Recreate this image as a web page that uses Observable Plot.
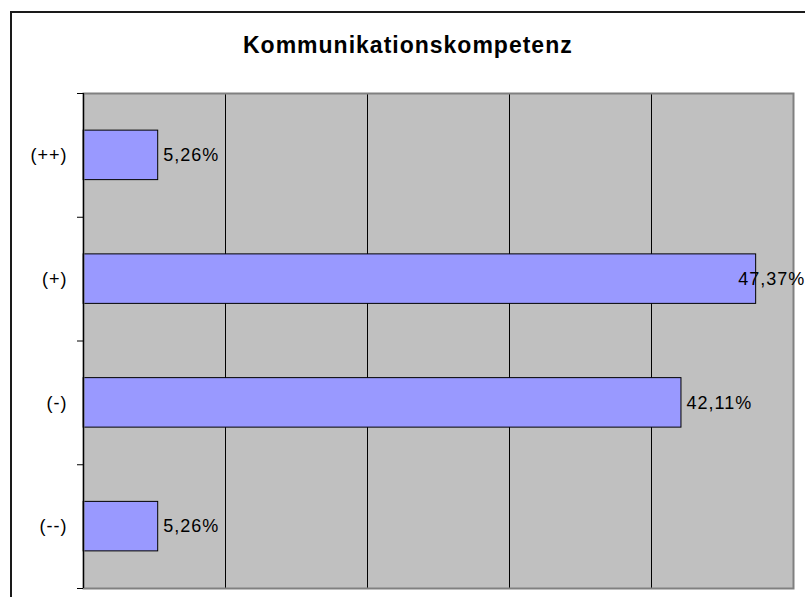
<!DOCTYPE html>
<html><head><meta charset="utf-8">
<script src="https://cdn.jsdelivr.net/npm/d3@7"></script>
<script src="https://cdn.jsdelivr.net/npm/@observablehq/plot@0.6"></script>
<style>
html,body{margin:0;padding:0;background:#fff;}
#wrap{position:relative;width:805px;height:597px;overflow:hidden;font-family:"Liberation Sans",Arial,sans-serif;}
#border{position:absolute;left:10px;top:11px;width:1000px;height:1000px;border:2px solid #1a1a1a;box-sizing:border-box;}
#title{position:absolute;left:243px;top:34px;font-weight:bold;font-size:23px;line-height:23px;letter-spacing:1px;color:#000;white-space:nowrap;}
#chart{position:absolute;left:0;top:0;}
#chart svg text{letter-spacing:1px;}
</style></head>
<body><div id="wrap"><div id="border"></div><div id="chart"></div><div id="title">Kommunikationskompetenz</div></div>
<script>
const categories = ["(++)", "(+)", "(-)", "(--)"];
const values = [5.26, 47.37, 42.11, 5.26];
const xGrid = [10, 20, 30, 40];
const xDomain = [0, 50];

const fmt = v => v.toFixed(2).replace(".", ",") + "%";
const data = categories.map((c, i) => ({cat: c, i, value: values[i], label: fmt(values[i])}));
const pad = 0.3;
const fits = d => d.value < xDomain[1] - 5;

const chart = Plot.plot({
  width: 805, height: 597,
  marginLeft: 83, marginRight: 12, marginTop: 93, marginBottom: 9,
  style: {background: "transparent", fontFamily: "Liberation Sans, Arial, sans-serif", fontSize: "18px", color: "#000"},
  x: {domain: xDomain, axis: null},
  y: {domain: [0, categories.length], reverse: true, axis: null},
  marks: [
    Plot.frame({fill: "#c0c0c0", stroke: null}),
    Plot.ruleX(xGrid, {stroke: "#000", strokeWidth: 1}),
    Plot.rectX(data, {x1: 0, x2: "value", y1: d => d.i + pad, y2: d => d.i + 1 - pad, fill: "#9999ff", stroke: "#000", strokeWidth: 1}),
    Plot.frame({stroke: "#808080", strokeWidth: 2}),
    Plot.ruleX([0], {stroke: "#000", strokeWidth: 1.2}),
    Plot.axisY({ticks: d3.range(categories.length + 1), tickSize: 6, tickFormat: () => "", stroke: "#000"}),
    Plot.axisY({ticks: categories.map((c, i) => i + 0.5), tickSize: 0, tickPadding: 16, tickFormat: v => categories[Math.floor(v)], fill: "#000", fontSize: 18}),
    Plot.text(data.filter(fits), {x: "value", y: d => d.i + 0.5, text: "label", textAnchor: "start", dx: 5, fill: "#000", fontSize: 18}),
    Plot.text(data.filter(d => !fits(d)), {x: "value", y: d => d.i + 0.5, text: "label", textAnchor: "start", dx: -18, fill: "#000", fontSize: 18})
  ]
});
document.getElementById("chart").appendChild(chart);
</script>
</body></html>
